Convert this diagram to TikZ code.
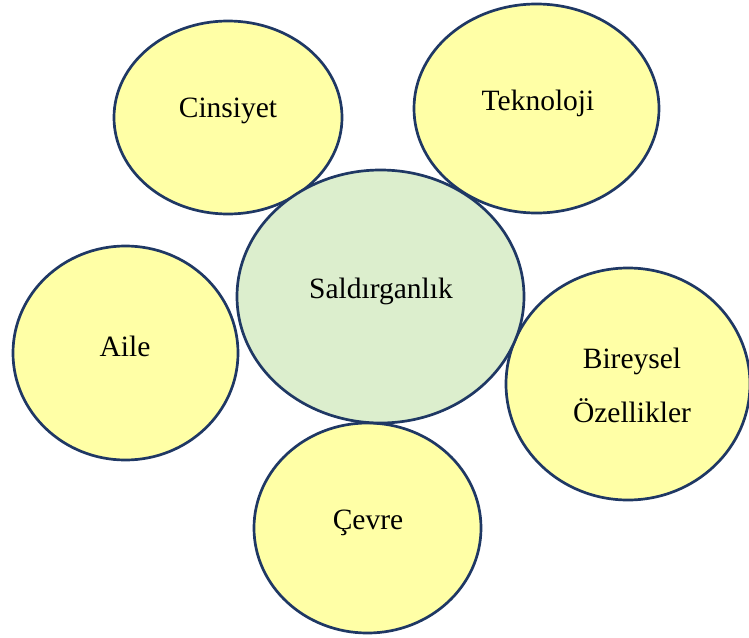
\documentclass[tikz,border=0pt]{standalone}
\usepackage{fontspec}
\setmainfont{Liberation Serif}
\usetikzlibrary{shapes.geometric}
\definecolor{rim}{HTML}{1F3864}
\definecolor{yel}{HTML}{FFFFA6}
\definecolor{grn}{HTML}{DCEECD}
\tikzset{
  bubble/.style={ellipse, draw=rim, line width=2.7pt, inner sep=0pt, outer sep=0pt},
  factor/.style={bubble, fill=yel},
  core/.style={bubble, fill=grn},
  lbl/.style={anchor=base, inner sep=0pt, font=\fontsize{29.5}{53}\selectfont, text=black}
}
\begin{document}
\begin{tikzpicture}[x=1pt,y=-1pt]
\useasboundingbox (0,0) rectangle (749,637);
\node[factor, minimum width=228pt, minimum height=193pt] (cins) at (228,117.5) {};
\node[factor, minimum width=245pt, minimum height=209pt] (tekn) at (536.5,108.5) {};
\node[factor, minimum width=225pt, minimum height=214pt] (aile) at (125.5,353) {};
\node[factor, minimum width=244pt, minimum height=232pt] (bire) at (628,384) {};
\node[factor, minimum width=227pt, minimum height=210pt] (cevr) at (367.5,528) {};
\node[core, minimum width=287pt, minimum height=253pt] (sald) at (380.5,296.5) {};
\node[lbl] (tcins) at (228,117) {Cinsiyet};
\node[lbl] (ttekn) at (538,110) {Teknoloji};
\node[lbl] (taile) at (125,356) {Aile};
\node[lbl] (tsald) at (381,298) {Saldırganlık};
\node[lbl] (tbire) at (632,368) {Bireysel};
\node[lbl] (tozel) at (632,422) {Özellikler};
\node[lbl] (tcevr) at (368,529) {Çevre};
\end{tikzpicture}
\end{document}
